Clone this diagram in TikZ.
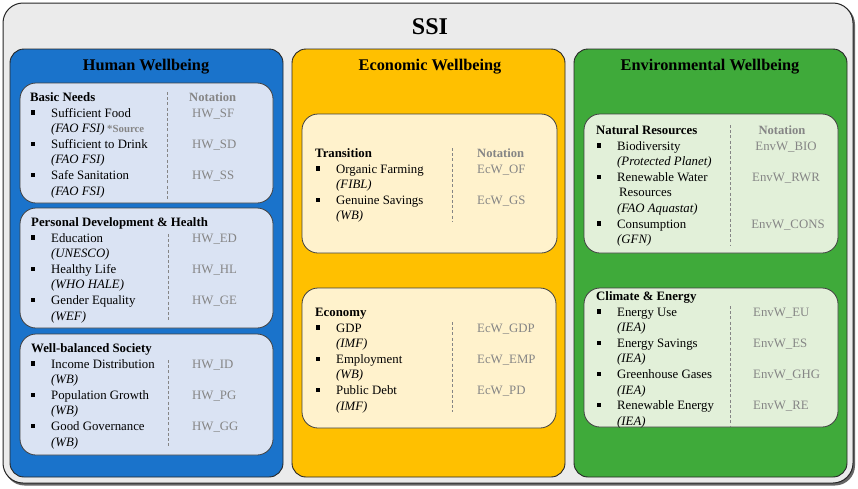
\documentclass[tikz,border=0pt]{standalone}
\usepackage{fontspec}
\setmainfont{Liberation Serif}
\definecolor{outerfill}{HTML}{EBEBEB}
\definecolor{hblue}{HTML}{1A73CB}
\definecolor{hlight}{HTML}{DAE3F3}
\definecolor{eyel}{HTML}{FFC000}
\definecolor{elight}{HTML}{FFF2CC}
\definecolor{vgreen}{HTML}{3FAA3A}
\definecolor{vlight}{HTML}{E2F0D9}
\definecolor{notegray}{HTML}{858585}
\newcommand\ind[6]{%
  \node[bul] (#1b) at (#2,#4-4.5) {};
  \node[itm] (#1) at (#3,#4) {#5};
  \node[src] (#1s) at (#3,#4+15.6) {#6};
}
\begin{document}
\begin{tikzpicture}[x=1pt,y=-1pt,
  sect/.style={draw=black!85, line width=0.9pt, rounded corners=14pt},
  subbox/.style={draw=black!75, line width=0.8pt, rounded corners=16pt},
  itm/.style={anchor=base west, inner sep=0pt, font=\fontsize{12.8}{15}\selectfont},
  src/.style={anchor=base west, inner sep=0pt, font=\fontsize{12.8}{15}\selectfont\itshape},
  head/.style={anchor=base west, inner sep=0pt, font=\fontsize{12.8}{15}\selectfont\bfseries},
  code/.style={anchor=base west, inner sep=0pt, text=notegray, font=\fontsize{12.8}{15}\selectfont},
  codec/.style={anchor=base, inner sep=0pt, text=notegray, font=\fontsize{12.8}{15}\selectfont},
  notehead/.style={anchor=base west, inner sep=0pt, text=notegray, font=\fontsize{12.6}{15}\selectfont\bfseries},
  noteheadc/.style={anchor=base, inner sep=0pt, text=notegray, font=\fontsize{12.6}{15}\selectfont\bfseries},
  bul/.style={fill=black, minimum size=4.3pt, inner sep=0pt},
  sepline/.style={draw=notegray, dash pattern=on 3pt off 2.2pt, line width=0.8pt},
  coltitle/.style={font=\fontsize{16.3}{18}\selectfont\bfseries, inner sep=0pt}
]
\useasboundingbox (0,0) rectangle (858,488);
% outer
\fill[black!60, rounded corners=20pt] (4.5,4.5) rectangle (855,485.5);
\path[fill=outerfill, draw=black!85, line width=1pt, rounded corners=20pt] (3,3) rectangle (853,483);
\node[font=\fontsize{24}{26}\selectfont\bfseries, inner sep=0pt] (ssi) at (430,27) {SSI};

% columns
\path[sect, fill=hblue] (10,49) rectangle (283,477);
\path[sect, fill=eyel] (292,49) rectangle (565,477);
\path[sect, fill=vgreen] (574,49) rectangle (847,477);
\node[coltitle] (thw) at (146,67) {Human Wellbeing};
\node[coltitle] (tew) at (430,67) {Economic Wellbeing};
\node[coltitle] (tvw) at (710,67) {Environmental Wellbeing};

% ---------- Human wellbeing
\path[subbox, fill=hlight] (20,83) rectangle (273,203);
\path[subbox, fill=hlight] (20,208) rectangle (273,328);
\path[subbox, fill=hlight] (20,334) rectangle (273,455);

\node[head] (bn) at (30,101.5) {Basic Needs};
\node[notehead] (bnn) at (189,101.5) {Notation};
\ind{sf}{33}{51}{117.1}{Sufficient Food}{(FAO FSI)}
\node[anchor=base west, inner sep=0pt, text=notegray, font=\fontsize{10.8}{12}\selectfont\bfseries] (srcnote) at (107,132.7) {*Source};
\ind{sd}{33}{51}{148.3}{Sufficient to Drink}{(FAO FSI)}
\ind{ss}{33}{51}{179.5}{Safe Sanitation}{(FAO FSI)}
\node[code] (sfc) at (192,117.1) {HW\_SF};
\node[code] (sdc) at (192,148.3) {HW\_SD};
\node[code] (ssc) at (192,179.5) {HW\_SS};
\coordinate (bnt) at (167,92); \coordinate (bnb) at (167,201);
\draw[sepline] (bnt) -- (bnb);

\node[head] (pd) at (31,226.5) {Personal Development \& Health};
\ind{ed}{33}{51}{242.1}{Education}{(UNESCO)}
\ind{hl}{33}{51}{273.3}{Healthy Life}{(WHO HALE)}
\ind{ge}{33}{51}{304.5}{Gender Equality}{(WEF)}
\node[code] (edc) at (192,242.1) {HW\_ED};
\node[code] (hlc) at (192,273.3) {HW\_HL};
\node[code] (gec) at (192,304.5) {HW\_GE};
\coordinate (pdt) at (168,234); \coordinate (pdb) at (168,322);
\draw[sepline] (pdt) -- (pdb);

\node[head] (wb) at (31,352.5) {Well-balanced Society};
\ind{id}{33}{51}{368.1}{Income Distribution}{(WB)}
\ind{pg}{33}{51}{399.3}{Population Growth}{(WB)}
\ind{gg}{33}{51}{430.5}{Good Governance}{(WB)}
\node[code] (idc) at (192,368.1) {HW\_ID};
\node[code] (pgc) at (192,399.3) {HW\_PG};
\node[code] (ggc) at (192,430.5) {HW\_GG};
\coordinate (wbt) at (168,360); \coordinate (wbb) at (168,448);
\draw[sepline] (wbt) -- (wbb);

% ---------- Economic wellbeing
\path[subbox, fill=elight] (302,114) rectangle (557,253);
\path[subbox, fill=elight] (302,288) rectangle (556,428);

\node[head] (tr) at (315,157.5) {Transition};
\node[notehead] (trn) at (477,157.5) {Notation};
\ind{of}{318}{336}{173.1}{Organic Farming}{(FIBL)}
\ind{gs}{318}{336}{204.3}{Genuine Savings}{(WB)}
\node[code] (ofc) at (477,173.1) {EcW\_OF};
\node[code] (gsc) at (477,204.3) {EcW\_GS};
\coordinate (trt) at (452,148); \coordinate (trb) at (452,222);
\draw[sepline] (trt) -- (trb);

\node[head] (ec) at (315,316.5) {Economy};
\ind{gdp}{318}{336}{332.1}{GDP}{(IMF)}
\ind{emp}{318}{336}{363.3}{Employment}{(WB)}
\ind{pdb}{318}{336}{394.5}{Public Debt}{(IMF)}
\node[code] (gdpc) at (477,332.1) {EcW\_GDP};
\node[code] (empc) at (477,363.3) {EcW\_EMP};
\node[code] (pdbc) at (477,394.5) {EcW\_PD};
\coordinate (ect) at (452,322); \coordinate (ecb) at (452,412);
\draw[sepline] (ect) -- (ecb);

% ---------- Environmental wellbeing
\path[subbox, fill=vlight] (584,114) rectangle (838,253);
\path[subbox, fill=vlight] (584,288) rectangle (838,427);

\node[head] (nr) at (596,134.5) {Natural Resources};
\node[noteheadc] (nrn) at (782,134.5) {Notation};
\ind{bio}{599}{617}{150.1}{Biodiversity}{(Protected Planet)}
\node[bul] (rwrb) at (599,176.8) {};
\node[itm] (rwr) at (617,181.3) {Renewable Water};
\node[itm] (rwr2) at (619,196.9) {Resources};
\node[src] (rwrs) at (617,212.5) {(FAO Aquastat)};
\ind{cons}{599}{617}{228.1}{Consumption}{(GFN)}
\node[codec] (bioc) at (786,150.1) {EnvW\_BIO};
\node[codec] (rwrc) at (786,181.3) {EnvW\_RWR};
\node[codec] (consc) at (788,228.1) {EnvW\_CONS};
\coordinate (nrt) at (730,125); \coordinate (nrb) at (730,246);
\draw[sepline] (nrt) -- (nrb);

\node[head] (ce) at (596,300.5) {Climate \& Energy};
\ind{eu}{599}{617}{316.1}{Energy Use}{(IEA)}
\ind{es}{599}{617}{347.3}{Energy Savings}{(IEA)}
\ind{ghg}{599}{617}{378.5}{Greenhouse Gases}{(IEA)}
\ind{re}{599}{617}{409.7}{Renewable Energy}{(IEA)}
\node[code] (euc) at (753,316.1) {EnvW\_EU};
\node[code] (esc) at (753,347.3) {EnvW\_ES};
\node[code] (ghgc) at (753,378.5) {EnvW\_GHG};
\node[code] (rec) at (753,409.7) {EnvW\_RE};
\coordinate (cet) at (730,306); \coordinate (ceb) at (730,427);
\draw[sepline] (cet) -- (ceb);
\end{tikzpicture}
\end{document}
